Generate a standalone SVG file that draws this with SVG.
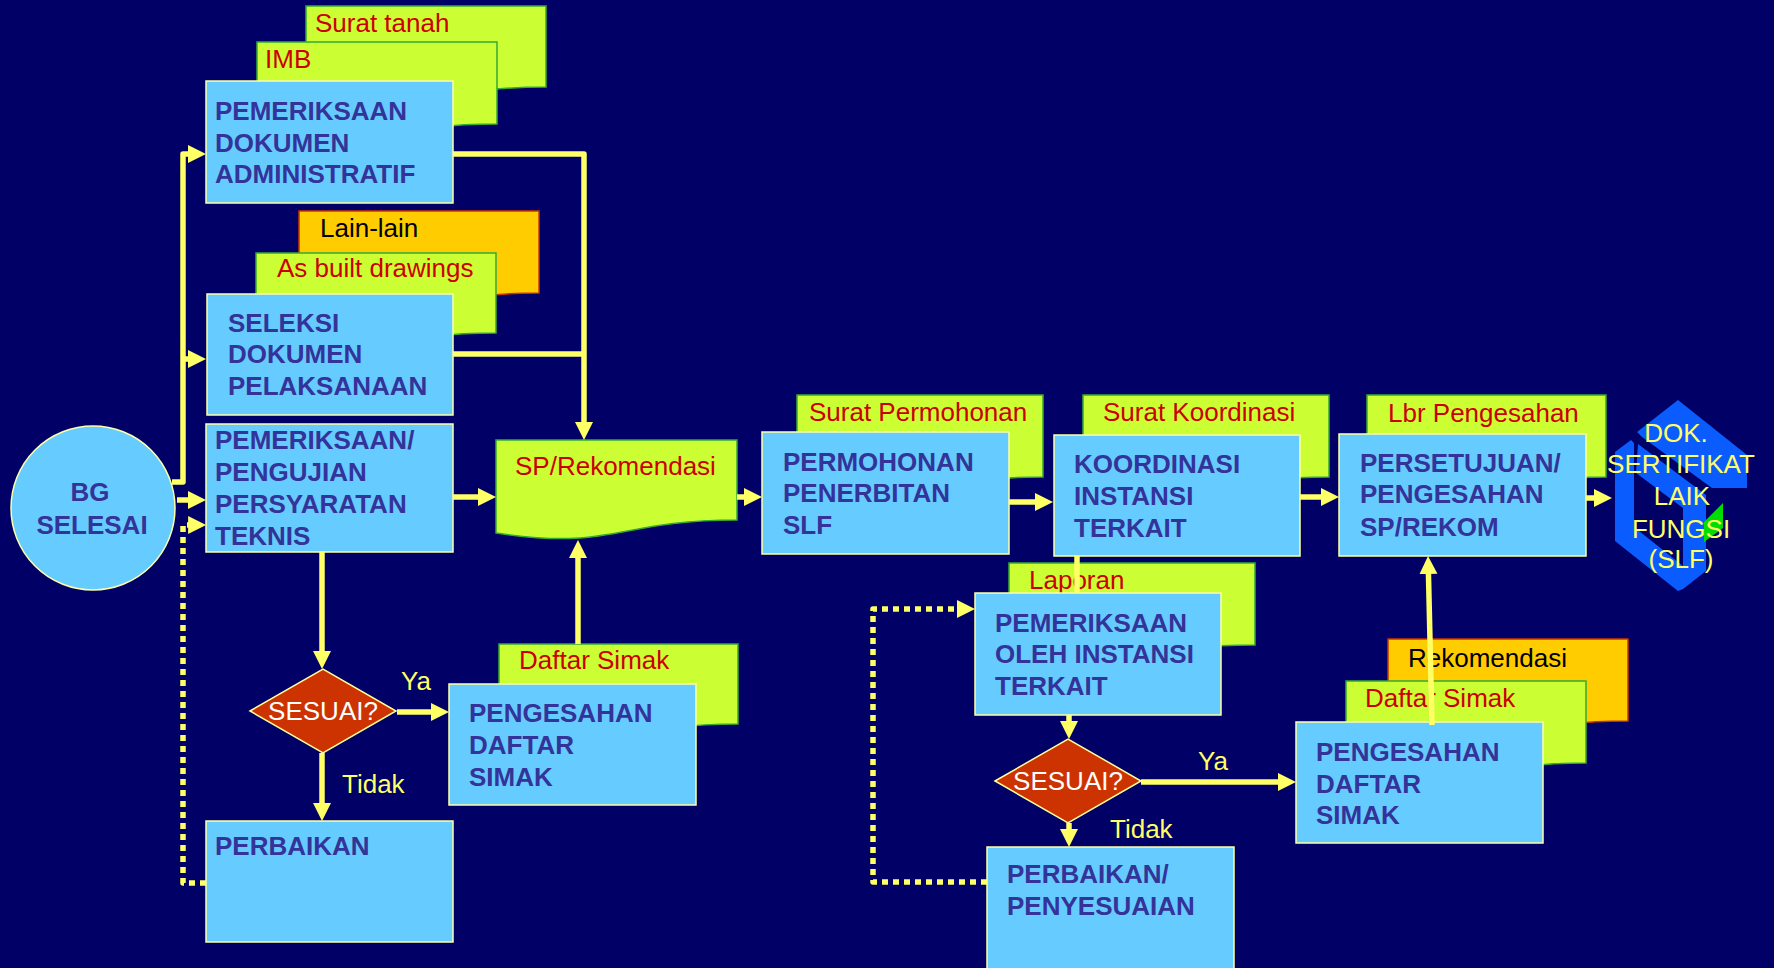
<svg xmlns="http://www.w3.org/2000/svg" width="1774" height="968" viewBox="0 0 1774 968">
<style>
text{font-family:"Liberation Sans",Arial,sans-serif;font-size:26px}
.box{fill:#66CCFF;stroke:#FFFFAA;stroke-width:1.5}
.bt{fill:#333399;font-weight:bold}
.doc{fill:#CCFF33;stroke:#33AA33;stroke-width:1.5}
.odoc{fill:#FFCC00;stroke:#CC3300;stroke-width:1.5}
.dt{fill:#CC0000}
.kt{fill:#000000}
.dia{fill:#CC3300;stroke:#FFFF99;stroke-width:1.5}
.wt{fill:#FFFFFF;text-anchor:middle}
.yt{fill:#FFFF66}
.c{fill:none;stroke:#FFFF66;stroke-width:5.5;stroke-linejoin:round}
.a{marker-end:url(#ah)}
.dot{stroke-dasharray:6 5}
.logo{fill:#0B5CFF}
.lt{fill:#FFFF66;text-anchor:middle}
</style>
<defs>
<marker id="ah" markerUnits="userSpaceOnUse" markerWidth="20" markerHeight="20" refX="2" refY="9" orient="auto">
<path d="M0,0 L18,9 L0,18 Z" fill="#FFFF66"/>
</marker>
</defs>
<rect width="1774" height="968" fill="#000066"/>

<g id="start">
<ellipse cx="93" cy="508" rx="82" ry="82" fill="#66CCFF" stroke="#FFFFAA" stroke-width="1.5"/>
<text class="bt" x="90" y="501" text-anchor="middle">BG</text>
<text class="bt" x="92" y="534" text-anchor="middle">SELESAI</text>
</g>

<g id="doc-surat-tanah">
<path class="doc" d="M306,6 H546 V87 C426,87 426,118 306,100 Z"/>
<text class="dt" x="315" y="32">Surat tanah</text>
</g>
<g id="doc-imb">
<path class="doc" d="M257,42 H497 V124 C377,124 377,155 257,137 Z"/>
<text class="dt" x="265" y="68">IMB</text>
</g>
<g id="n-pemeriksaan-dokumen">
<rect class="box" x="206" y="81" width="247" height="122"/>
<text class="bt" x="215" y="120">PEMERIKSAAN</text>
<text class="bt" x="215" y="152">DOKUMEN</text>
<text class="bt" x="215" y="183">ADMINISTRATIF</text>
</g>

<g id="doc-lain-lain">
<path class="odoc" d="M299,211 H539 V293 C419,293 419,324 299,306 Z"/>
<text class="kt" x="320" y="237">Lain-lain</text>
</g>
<g id="doc-as-built">
<path class="doc" d="M256,253 H496 V333 C376,333 376,364 256,346 Z"/>
<text class="dt" x="277" y="277">As built drawings</text>
</g>
<g id="n-seleksi">
<rect class="box" x="207" y="294" width="246" height="121"/>
<text class="bt" x="228" y="332">SELEKSI</text>
<text class="bt" x="228" y="363">DOKUMEN</text>
<text class="bt" x="228" y="395">PELAKSANAAN</text>
</g>

<g id="n-pengujian">
<rect class="box" x="206" y="424" width="247" height="128"/>
<text class="bt" x="215" y="449">PEMERIKSAAN/</text>
<text class="bt" x="215" y="481">PENGUJIAN</text>
<text class="bt" x="215" y="513">PERSYARATAN</text>
<text class="bt" x="215" y="545">TEKNIS</text>
</g>

<g id="d-sesuai-1">
<polygon class="dia" points="250,711 323,669 396,711 323,753"/>
<text class="wt" x="323" y="720">SESUAI?</text>
</g>

<g id="n-perbaikan">
<rect class="box" x="206" y="821" width="247" height="121"/>
<text class="bt" x="215" y="855">PERBAIKAN</text>
</g>

<g id="doc-daftar-simak-1">
<path class="doc" d="M499,644 H738 V724 C618,724 618,755 499,737 Z"/>
<text class="dt" x="519" y="669">Daftar Simak</text>
</g>
<g id="n-pengesahan-1">
<rect class="box" x="449" y="684" width="247" height="121"/>
<text class="bt" x="469" y="722">PENGESAHAN</text>
<text class="bt" x="469" y="754">DAFTAR</text>
<text class="bt" x="469" y="786">SIMAK</text>
</g>

<g id="doc-sp-rekomendasi">
<path class="doc" d="M496,440 H737 V520 C616,520 616,551 496,533 Z"/>
<text class="dt" x="515" y="475">SP/Rekomendasi</text>
</g>

<g id="doc-surat-permohonan">
<path class="doc" d="M797,395 H1043 V477 C920,477 920,508 797,490 Z"/>
<text class="dt" x="809" y="421">Surat Permohonan</text>
</g>
<g id="n-permohonan">
<rect class="box" x="762" y="432" width="247" height="122"/>
<text class="bt" x="783" y="471">PERMOHONAN</text>
<text class="bt" x="783" y="502">PENERBITAN</text>
<text class="bt" x="783" y="534">SLF</text>
</g>

<g id="doc-surat-koordinasi">
<path class="doc" d="M1083,395 H1329 V477 C1206,477 1206,508 1083,490 Z"/>
<text class="dt" x="1103" y="421">Surat Koordinasi</text>
</g>
<g id="n-koordinasi">
<rect class="box" x="1054" y="435" width="246" height="121"/>
<text class="bt" x="1074" y="473">KOORDINASI</text>
<text class="bt" x="1074" y="505">INSTANSI</text>
<text class="bt" x="1074" y="537">TERKAIT</text>
</g>

<g id="doc-lbr-pengesahan">
<path class="doc" d="M1367,395 H1606 V477 C1486,477 1486,508 1367,490 Z"/>
<text class="dt" x="1388" y="422">Lbr Pengesahan</text>
</g>
<g id="n-persetujuan">
<rect class="box" x="1339" y="434" width="247" height="122"/>
<text class="bt" x="1360" y="472">PERSETUJUAN/</text>
<text class="bt" x="1360" y="503">PENGESAHAN</text>
<text class="bt" x="1360" y="536">SP/REKOM</text>
</g>

<g id="n-slf">
<polygon class="logo" points="1637,432 1678,400 1747,455 1747,488 1712,488 1642,437"/>
<polygon class="logo" points="1638,444 1706,495 1706,571 1683,589 1683,508 1636,473"/>
<polygon class="logo" points="1615,452 1631,440 1634,443 1634,527 1683,566 1683,589 1678,591 1615,541"/>
<polygon points="1723,503 1723,528 1704,542 1704,522" fill="#00DD00"/>
<text class="lt" x="1676" y="442">DOK.</text>
<text class="lt" x="1681" y="473">SERTIFIKAT</text>
<text class="lt" x="1682" y="505">LAIK</text>
<text class="lt" x="1681" y="538">FUNGSI</text>
<text class="lt" x="1681" y="568">(SLF)</text>
</g>

<g id="doc-laporan">
<path class="doc" d="M1009,563 H1255 V645 C1132,645 1132,676 1009,658 Z"/>
<text class="dt" x="1029" y="589">Laporan</text>
</g>
<g id="n-pemeriksaan-instansi">
<rect class="box" x="975" y="593" width="246" height="122"/>
<text class="bt" x="995" y="632">PEMERIKSAAN</text>
<text class="bt" x="995" y="663">OLEH INSTANSI</text>
<text class="bt" x="995" y="695">TERKAIT</text>
</g>

<g id="d-sesuai-2">
<polygon class="dia" points="995,781 1068,739 1141,781 1068,823"/>
<text class="wt" x="1068" y="790">SESUAI?</text>
</g>

<g id="n-penyesuaian">
<rect class="box" x="987" y="847" width="247" height="130"/>
<text class="bt" x="1007" y="883">PERBAIKAN/</text>
<text class="bt" x="1007" y="915">PENYESUAIAN</text>
</g>

<g id="doc-rekomendasi">
<path class="odoc" d="M1388,639 H1628 V721 C1508,721 1508,752 1388,734 Z"/>
<text class="kt" x="1408" y="667">Rekomendasi</text>
</g>
<g id="doc-daftar-simak-2">
<path class="doc" d="M1346,681 H1586 V763 C1466,763 1466,794 1346,776 Z"/>
<text class="dt" x="1365" y="707">Daftar Simak</text>
</g>
<g id="n-pengesahan-2">
<rect class="box" x="1296" y="722" width="247" height="121"/>
<text class="bt" x="1316" y="761">PENGESAHAN</text>
<text class="bt" x="1316" y="793">DAFTAR</text>
<text class="bt" x="1316" y="824">SIMAK</text>
</g>

<g id="connectors">
<path class="c a" d="M172,482 H183 V154 H190"/>
<path class="c a" d="M183,359 H190"/>
<path class="c a" d="M177,500 H190"/>
<path class="c dot" d="M206,883 H183 V525 H190"/>
<path class="c a" d="M190,525 H190.1"/>
<path class="c a" d="M453,154 H584 V424"/>
<path class="c" d="M453,354 H584"/>
<path class="c a" d="M453,497 H480"/>
<path class="c a" d="M737,497 H746"/>
<path class="c a" d="M1009,502 H1037"/>
<path class="c a" d="M1300,497 H1323"/>
<path class="c a" d="M1586,498 H1596"/>
<path class="c a" d="M322,552 V653"/>
<path class="c a" d="M397,712 H433"/>
<path class="c a" d="M322,753 V805"/>
<path class="c a" d="M578,644 V556"/>
<path class="c" d="M1077,556 V593"/>
<path class="c a" d="M1069,715 V723"/>
<path class="c a" d="M1141,782 H1280"/>
<path class="c a" d="M1069,823 V831"/>
<path class="c dot" d="M987,882 H873 V609 H959"/>
<path class="c a" d="M958,609 H959"/>
<path class="c a" d="M1432,725 L1428.4,572"/>
<text class="yt" x="401" y="690">Ya</text>
<text class="yt" x="342" y="793">Tidak</text>
<text class="yt" x="1198" y="770">Ya</text>
<text class="yt" x="1110" y="838">Tidak</text>
</g>
</svg>
